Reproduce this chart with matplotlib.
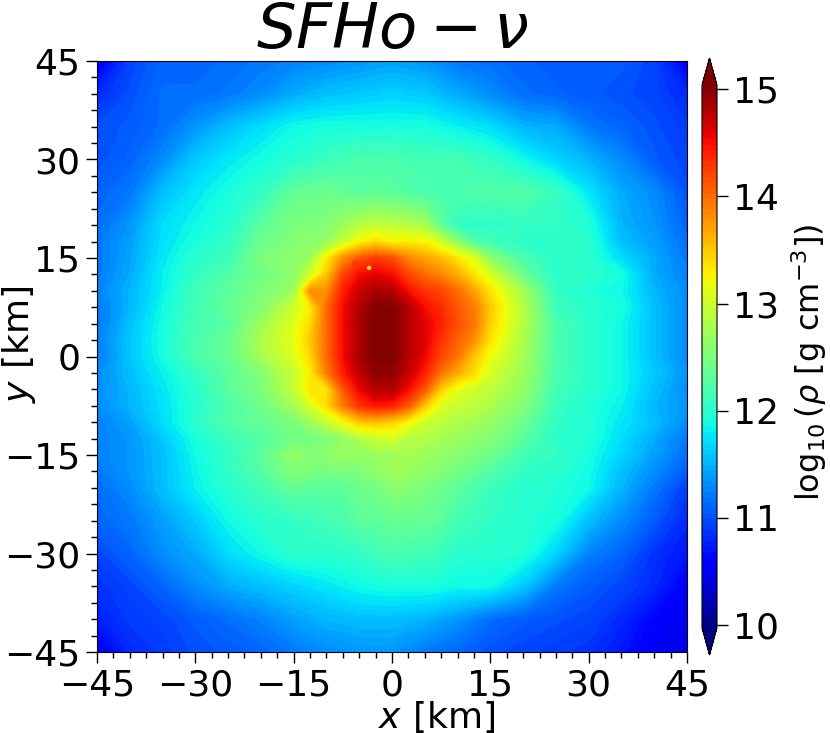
import matplotlib
matplotlib.use('Agg')
import matplotlib.pyplot as plt
import numpy as np

x_km = [-45, -40, -35, -30, -25, -20, -15, -12.5, -10, -7.5, -5, -2.5, 0, 2.5, 5, 7.5, 10, 12.5, 15, 20, 25, 30, 35, 40, 45]
y_km = [45, 40, 35, 30, 25, 20, 17.5, 15, 12.5, 10, 7.5, 5, 2.5, 0, -2.5, -5, -7.5, -10, -12.5, -15, -17.5, -20, -25, -30, -35, -40, -45]

# log10(rho), one row per y_km, one column per x_km
log_rho = [
    [10.5, 10.95, 11.1, 11.1, 11.15, 11.2, 11.25, 11.27, 11.3, 11.32, 11.35, 11.38, 11.4, 11.38, 11.35, 11.28, 11.2, 11.17, 11.15, 11.1, 11.05, 11.05, 11.05, 10.95, 10.55],
    [10.8, 11.0, 11.15, 11.15, 11.2, 11.3, 11.45, 11.5, 11.55, 11.58, 11.6, 11.62, 11.65, 11.62, 11.6, 11.52, 11.45, 11.38, 11.3, 11.15, 11.1, 11.05, 11.0, 10.95, 10.8],
    [11.0, 11.05, 11.15, 11.35, 11.55, 11.7, 11.85, 11.88, 11.9, 11.9, 11.9, 11.9, 11.9, 11.9, 11.9, 11.85, 11.8, 11.75, 11.7, 11.5, 11.45, 11.2, 11.1, 11.0, 10.9],
    [11.0, 11.1, 11.3, 11.6, 11.75, 11.88, 11.98, 12.02, 12.1, 12.15, 12.2, 12.2, 12.2, 12.18, 12.15, 12.15, 12.15, 12.1, 12.05, 11.85, 11.65, 11.5, 11.3, 11.05, 10.95],
    [11.1, 11.2, 11.55, 11.75, 11.9, 12.05, 12.35, 12.38, 12.4, 12.35, 12.3, 12.32, 12.3, 12.25, 12.2, 12.2, 12.2, 12.22, 12.25, 12.25, 12.1, 11.75, 11.45, 11.3, 11.0],
    [11.15, 11.35, 11.7, 11.85, 11.98, 12.3, 12.5, 12.52, 12.55, 12.7, 12.85, 12.92, 12.9, 12.85, 12.75, 12.35, 12.05, 12.02, 12.0, 12.05, 12.05, 11.95, 11.5, 11.35, 11.1],
    [11.2, 11.4, 11.72, 11.9, 12.05, 12.4, 12.55, 12.6, 12.65, 12.95, 13.25, 13.4, 13.25, 13.3, 13.25, 13.0, 12.6, 12.25, 12.15, 12.0, 12.0, 12.0, 11.55, 11.4, 11.15],
    [11.2, 11.42, 11.75, 12.0, 12.1, 12.5, 12.6, 12.7, 13.3, 13.8, 14.1, 14.25, 14.15, 13.85, 13.7, 13.55, 13.35, 13.1, 12.6, 12.2, 12.0, 12.0, 11.7, 11.45, 11.2],
    [11.2, 11.45, 11.8, 12.05, 12.25, 12.45, 12.6, 13.0, 13.5, 14.2, 14.5, 14.6, 14.5, 14.2, 14.0, 13.85, 13.65, 13.35, 13.05, 12.4, 12.0, 12.0, 11.9, 11.45, 11.25],
    [11.25, 11.5, 11.8, 12.12, 12.3, 12.5, 12.7, 13.8, 13.8, 14.4, 14.7, 14.85, 14.8, 14.5, 14.3, 14.2, 14.0, 13.7, 13.35, 12.75, 12.05, 11.95, 11.85, 11.5, 11.3],
    [11.2, 11.5, 11.85, 12.15, 12.35, 12.55, 13.0, 13.3, 14.0, 14.5, 14.8, 15.0, 15.0, 14.8, 14.5, 14.35, 14.1, 13.9, 13.5, 12.85, 12.1, 12.0, 11.9, 11.55, 11.3],
    [11.2, 11.55, 11.88, 12.15, 12.3, 12.7, 13.1, 13.4, 14.0, 14.5, 14.85, 15.03, 15.03, 14.8, 14.6, 14.4, 14.15, 13.95, 13.45, 12.85, 12.2, 12.0, 11.85, 11.55, 11.3],
    [11.25, 11.58, 11.9, 12.2, 12.35, 12.8, 13.15, 13.5, 14.0, 14.5, 14.8, 15.03, 15.03, 14.8, 14.6, 14.3, 14.05, 13.8, 13.35, 12.8, 12.2, 12.0, 11.85, 11.55, 11.3],
    [11.2, 11.58, 11.88, 12.2, 12.35, 12.75, 13.1, 13.4, 14.0, 14.5, 14.85, 15.03, 15.03, 14.8, 14.55, 14.2, 13.95, 13.5, 13.2, 12.75, 12.2, 12.0, 11.85, 11.55, 11.3],
    [11.3, 11.55, 11.8, 12.05, 12.3, 12.55, 12.95, 13.3, 13.9, 14.4, 14.75, 14.95, 14.95, 14.7, 14.4, 13.95, 13.65, 13.4, 13.05, 12.7, 12.2, 12.0, 11.85, 11.6, 11.35],
    [11.3, 11.5, 11.75, 12.0, 12.3, 12.5, 12.95, 13.35, 13.35, 14.1, 14.55, 14.8, 14.8, 14.5, 14.1, 13.45, 13.15, 13.0, 12.9, 12.65, 12.15, 12.0, 11.85, 11.55, 11.3],
    [11.3, 11.5, 11.72, 11.98, 12.2, 12.4, 12.75, 13.05, 13.4, 13.9, 14.3, 14.45, 14.4, 14.1, 13.5, 13.1, 12.95, 12.9, 12.8, 12.55, 12.1, 11.95, 11.8, 11.5, 11.35],
    [11.25, 11.4, 11.7, 12.0, 12.25, 12.35, 12.5, 12.7, 12.95, 13.2, 13.5, 13.55, 13.45, 13.25, 13.0, 12.9, 12.8, 12.75, 12.65, 12.4, 12.05, 11.95, 11.75, 11.55, 11.3],
    [11.25, 11.35, 11.6, 11.9, 12.1, 12.25, 12.45, 12.45, 12.5, 12.65, 12.8, 12.95, 13.05, 12.85, 12.85, 12.75, 12.7, 12.6, 12.55, 12.3, 12.0, 11.95, 11.7, 11.45, 11.2],
    [11.25, 11.35, 11.55, 11.85, 12.05, 12.3, 12.65, 12.55, 12.6, 12.7, 12.65, 12.7, 12.7, 12.75, 12.7, 12.65, 12.55, 12.5, 12.4, 12.15, 12.05, 11.9, 11.65, 11.4, 11.15],
    [11.2, 11.35, 11.55, 11.82, 12.05, 12.25, 12.55, 12.5, 12.45, 12.5, 12.5, 12.6, 12.75, 12.7, 12.6, 12.55, 12.45, 12.35, 12.25, 12.05, 12.0, 11.87, 11.55, 11.3, 11.05],
    [11.15, 11.3, 11.55, 11.8, 11.98, 12.15, 12.35, 12.3, 12.3, 12.3, 12.4, 12.45, 12.58, 12.55, 12.5, 12.4, 12.3, 12.2, 12.1, 12.0, 11.95, 11.85, 11.5, 11.2, 10.9],
    [11.1, 11.2, 11.4, 11.6, 11.85, 12.0, 12.05, 12.1, 12.15, 12.2, 12.3, 12.3, 12.35, 12.35, 12.35, 12.3, 12.15, 12.1, 12.05, 11.97, 11.9, 11.55, 11.3, 11.05, 10.8],
    [10.95, 11.1, 11.3, 11.45, 11.7, 11.85, 12.0, 12.0, 12.0, 12.02, 12.05, 12.12, 12.2, 12.17, 12.15, 12.08, 12.0, 11.98, 11.97, 11.95, 11.65, 11.25, 11.1, 10.85, 10.7],
    [10.85, 10.95, 11.1, 11.3, 11.45, 11.55, 11.65, 11.7, 11.75, 11.8, 11.85, 11.88, 11.9, 11.9, 11.9, 11.88, 11.85, 11.85, 11.85, 11.6, 11.2, 11.05, 10.95, 10.8, 10.55],
    [10.75, 10.9, 10.95, 11.05, 11.15, 11.25, 11.4, 11.45, 11.5, 11.52, 11.55, 11.55, 11.55, 11.52, 11.5, 11.42, 11.35, 11.25, 11.15, 11.05, 11.0, 10.95, 10.8, 10.6, 10.45],
    [10.5, 10.8, 10.9, 11.0, 11.05, 11.1, 11.2, 11.25, 11.3, 11.32, 11.35, 11.35, 11.35, 11.28, 11.2, 11.15, 11.1, 11.05, 11.0, 10.95, 10.9, 10.85, 10.7, 10.5, 10.45],
]

spot_x = [-3.5, -5.6]
spot_y = [13.5, 14.1]
spot_val = [13.3, 14.3]

ticks = [-45, -30, -15, 0, 15, 30, 45]
cbar_ticks = [10, 11, 12, 13, 14, 15]

plt.rcParams['mathtext.fontset'] = 'dejavusans'
fig = plt.figure(figsize=(8.3, 7.33), dpi=100)
ax = fig.add_axes([97/830, 1-652/733, 590/830, 591/733])

levels = np.linspace(9.97, 15.04, 101)
cs = ax.contourf(x_km, y_km, np.array(log_rho), levels=levels, cmap='jet', extend='both')
ax.scatter(spot_x, spot_y, c=spot_val, s=[10, 25], cmap='jet', vmin=9.97, vmax=15.04, linewidths=0)

ax.set_xlim(-45, 45)
ax.set_ylim(-45, 45)
ax.set_xticks(ticks)
ax.set_yticks(ticks)
ax.set_xticks(np.arange(-45, 45.1, 2.5), minor=True)
ax.set_yticks(np.arange(-45, 45.1, 2.5), minor=True)
ax.tick_params(which='major', length=8, width=1, labelsize=26, pad=4)
ax.tick_params(which='minor', length=4, width=1)
ax.set_xlabel(r'$x\ [\rm km]$', fontsize=26)
ax.xaxis.set_label_coords(0.576, -0.079)
ax.set_ylabel(r'$y\ [\rm km]$', fontsize=26)
ax.yaxis.set_label_coords(-0.1, 0.52)
ax.set_title(r'$SFHo-\nu$', fontsize=45, pad=3)

cax = fig.add_axes([702/830, 1-655/733, 15/830, 597/733])
cb = fig.colorbar(cs, cax=cax, ticks=cbar_ticks)
cb.ax.tick_params(labelsize=26, length=8, width=1)
cb.set_label(r'$\log_{10}(\rho\ [\rm g\ cm^{-3}])$', fontsize=23, labelpad=2)
cb.ax.yaxis.set_label_coords(5.85, 0.489)

fig.savefig('out.png', dpi=100)
